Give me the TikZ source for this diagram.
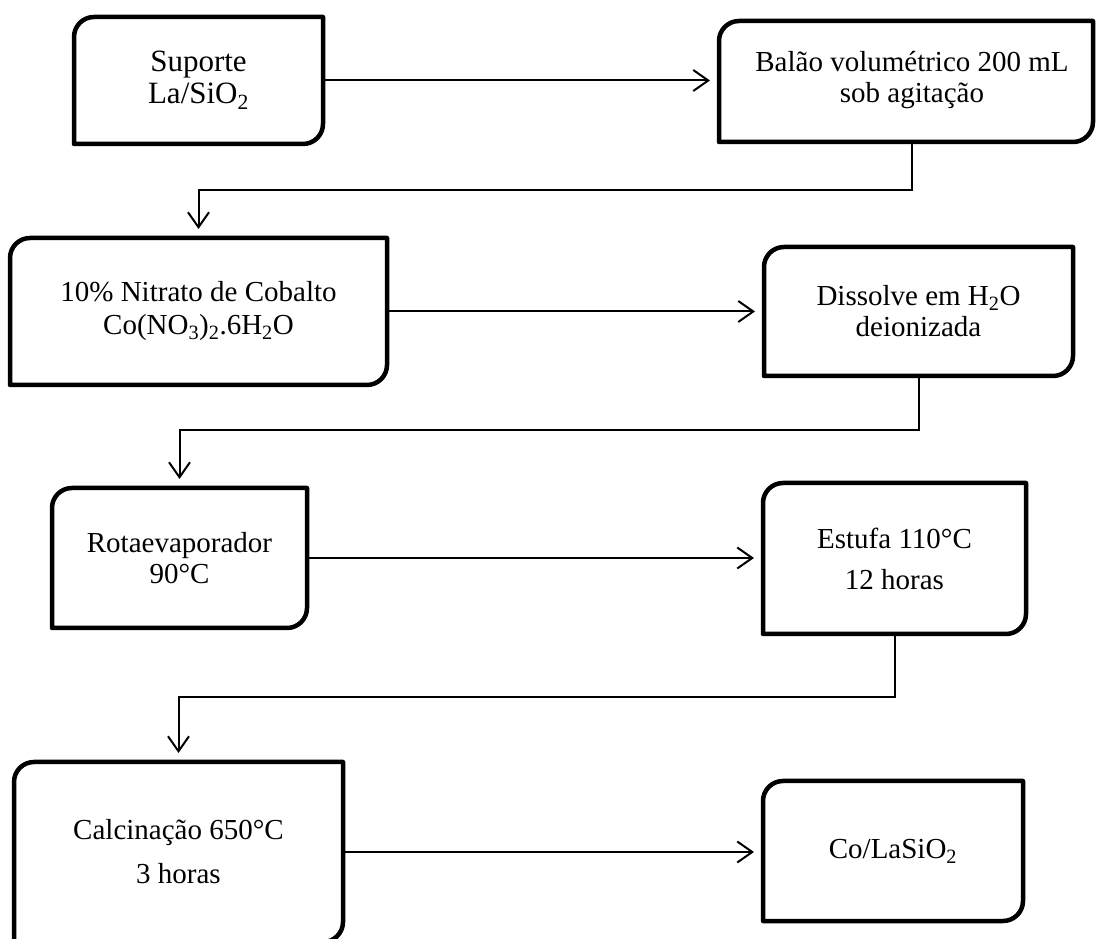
\documentclass[tikz,border=0pt]{standalone}
\usepackage{fontspec}
\setmainfont{Liberation Serif}
\usetikzlibrary{arrows.meta}
\tikzset{
  boxnode/.style={inner sep=0pt, outer sep=0pt, draw=none},
  boxline/.style={line width=4.5pt, line join=round},
  txt/.style={align=center, inner sep=0pt, font=\fontsize{29pt}{32pt}\selectfont},
  conn/.style={line width=2pt, -{Straight Barb[length=15pt,width=21pt]}, shorten >=9pt},
}
\newcommand{\boxoutline}[1]{\draw[boxline] (#1.south west) -- ([yshift=-20pt]#1.north west) arc[start angle=180,end angle=90,radius=20pt] -- (#1.north east) -- ([yshift=20pt]#1.south east) arc[start angle=0,end angle=-90,radius=20pt] -- cycle;}
\begin{document}
\begin{tikzpicture}[x=1pt,y=1pt]
\useasboundingbox[fill=white] (0,0) rectangle (1096,938);

% boxes
\node[boxnode, minimum width=249pt, minimum height=127pt] (b1) at (198.5,857.5) {};
\node[boxnode, minimum width=374pt, minimum height=121pt] (b2) at (906,856.5) {};
\node[boxnode, minimum width=377pt, minimum height=147pt] (b3) at (198.5,626.5) {};
\node[boxnode, minimum width=309pt, minimum height=129pt] (b4) at (918.5,626.5) {};
\node[boxnode, minimum width=255pt, minimum height=140pt] (b5) at (179.5,380) {};
\node[boxnode, minimum width=263pt, minimum height=151pt] (b6) at (894.5,379.5) {};
\node[boxnode, minimum width=329pt, minimum height=180pt] (b7) at (178.5,86) {};
\node[boxnode, minimum width=260pt, minimum height=140pt] (b8) at (893,87) {};

\foreach \b in {b1,b2,b3,b4,b5,b6,b7,b8}{\boxoutline{\b}}

% texts
\node[txt, font=\fontsize{31pt}{32pt}\selectfont] (t1) at (b1) {Suporte\\La/SiO\textsubscript{2}};
\node[txt, font=\fontsize{29pt}{30.5pt}\selectfont] (t2) at ([xshift=6pt,yshift=1.5pt]b2.center) {Balão volumétrico 200 mL\\sob agitação};
\node[txt, font=\fontsize{29pt}{33pt}\selectfont] (t3) at (b3) {10\% Nitrato de Cobalto\\Co(NO\textsubscript{3})\textsubscript{2}.6H\textsubscript{2}O};
\node[txt, font=\fontsize{29pt}{31pt}\selectfont] (t4) at (b4) {Dissolve em H\textsubscript{2}O\\deionizada};
\node[txt, font=\fontsize{29pt}{31pt}\selectfont] (t5) at (b5) {Rotaevaporador\\90°C};
\node[txt, font=\fontsize{29pt}{41pt}\selectfont] (t6) at (b6) {Estufa 110°C\\12 horas};
\node[txt, font=\fontsize{29pt}{44pt}\selectfont] (t7) at (b7) {Calcinação 650°C\\3 horas};
\node[txt] (t8) at (b8) {Co/LaSiO\textsubscript{2}};

% connectors
\draw[conn] (b1.east) -- (b1.east -| b2.west);
\draw[conn] ([xshift=6pt]b2.south) -- ++(0,-48) -| (b3.north);
\draw[conn] (b3.east) -- (b3.east -| b4.west);
\draw[conn] (b4.south) -- ++(0,-54) -| (b5.north);
\draw[conn] (b5.east) -- (b5.east -| b6.west);
\draw[conn] (b6.south) -- ++(0,-63) -| (b7.north);
\draw[conn] (b7.east) -- (b7.east -| b8.west);
\end{tikzpicture}
\end{document}
